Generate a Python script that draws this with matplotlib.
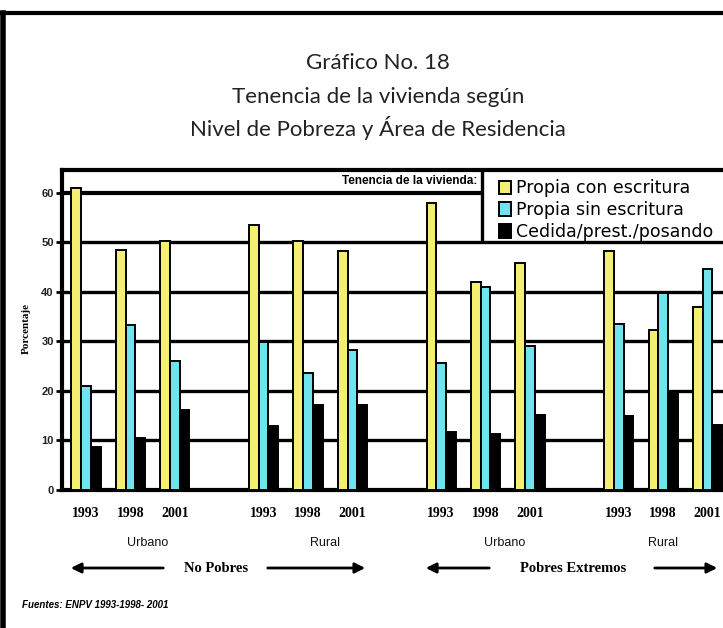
import matplotlib
matplotlib.use("Agg")
import matplotlib.pyplot as plt
from matplotlib.lines import Line2D
from matplotlib.patches import Patch, FancyArrowPatch
import numpy as np

# ---------------- data ----------------
years = ["1993", "1998", "2001"]
areas = ["Urbano", "Rural", "Urbano", "Rural"]
poverty = ["No Pobres", "Pobres Extremos"]
series_names = ["Propia con escritura", "Propia sin escritura", "Cedida/prest./posando"]

propia_con = [61, 48.5, 50.2, 53.5, 50.2, 48.2, 57.9, 41.9, 45.8, 48.2, 32.2, 37.0]
propia_sin = [21, 33.3, 26, 29.8, 23.6, 28.2, 25.7, 40.9, 29.1, 33.5, 39.7, 44.6]
cedida = [8.7, 10.5, 16.2, 13, 17.2, 17.2, 11.8, 11.3, 15.2, 15.0, 20.0, 13.1]

colors = ["#F4EF72", "#6FE4EE", "#000000"]
yticks = [0, 10, 20, 30, 40, 50, 60]

# ---------------- layout ----------------
W, H = 723, 628
fig = plt.figure(figsize=(W / 100, H / 100), dpi=100)
fig.patch.set_facecolor("white")

unit = 44.4          # px per cluster slot
x0px = 86            # px of first cluster centre
ax_left_px, ax_right_px = 62, 770
ax_top_px, ax_bot_px = 170, 490

ax = fig.add_axes([ax_left_px / W, 1 - ax_bot_px / H,
                   (ax_right_px - ax_left_px) / W, (ax_bot_px - ax_top_px) / H])
ax.set_xlim((ax_left_px - x0px) / unit, (ax_right_px - x0px) / unit)
ax.set_ylim(0, 64.6)

# cluster positions: 4 groups of 3 years, with a gap between groups
pos = np.array([g * 4 + i for g in range(4) for i in range(3)], dtype=float)
bw = 0.22

# gridlines (behind bars)
for yv in yticks[1:-1]:
    ax.axhline(yv, color="black", lw=2.4, zorder=1)
xl = ax.get_xlim()
box_x = (482 - x0px) / unit
ax.plot([xl[0], box_x], [60, 60], color="black", lw=3, zorder=1, solid_capstyle="butt")
ax.plot([box_x, box_x], [50, 64.6], color="black", lw=2.4, zorder=1, solid_capstyle="butt")

for k, (vals, c) in enumerate(zip([propia_con, propia_sin, cedida], colors)):
    ax.bar(pos + (k - 1) * bw, vals, width=bw, color=c, edgecolor="black",
           linewidth=1.4, zorder=3, label=series_names[k])

for s in ["left", "top", "bottom"]:
    ax.spines[s].set_linewidth(3)
ax.spines["right"].set_visible(False)

ax.set_yticks(yticks)
ax.set_yticklabels([str(v) for v in yticks], fontsize=8, fontweight="bold",
                   family="Liberation Sans", color="#222222")
ax.tick_params(axis="y", direction="out", length=4, width=2, pad=2)
ax.set_xticks(pos)
ax.set_xticklabels(years * 4, fontsize=10, fontweight="bold", family="Liberation Serif")
ax.tick_params(axis="x", length=0, pad=12)

fig.text(26 / W, 1 - 328 / H, "Porcentaje", rotation=90,
         ha="center", va="center", fontsize=8, fontweight="bold",
         family="Liberation Serif")

# header text
ax.text(box_x - 0.1, 62.3, "Tenencia de la vivienda:", ha="right", va="center",
        fontsize=8.5, fontweight="bold", family="Liberation Sans")

# legend
handles = [Patch(facecolor=c, edgecolor="black", linewidth=1.4) for c in colors]
leg = ax.legend(handles, series_names, loc="upper left",
                bbox_to_anchor=((490 - ax_left_px) / (ax_right_px - ax_left_px), 0.998),
                frameon=False, handlelength=0.7, handleheight=0.8,
                handletextpad=0.3, labelspacing=0.22, borderaxespad=0.1,
                prop={"family": "DejaVu Sans", "size": 12.5})

# area labels
area_px = [148, 325, 505, 663]
for a, px in zip(areas, area_px):
    fig.text(px / W, 1 - 543 / H, a, ha="center", va="center", fontsize=9,
             family="Liberation Sans", color="#111111")

# poverty labels with arrows
def arrow_label(text, cx, l0, l1, r0, r1, y):
    yf = 1 - y / H
    fig.text(cx / W, yf, text, ha="center", va="center", fontsize=10.5,
             fontweight="bold", family="Liberation Serif")
    for a, b in [(l1, l0), (r0, r1)]:
        fig.add_artist(FancyArrowPatch((a / W, yf), (b / W, yf),
                                       transform=fig.transFigure,
                                       arrowstyle="-|>,head_length=6,head_width=3",
                                       lw=2, color="black", mutation_scale=1))

arrow_label(poverty[0], 216, 68, 166, 265, 368, 568)
arrow_label(poverty[1], 573, 423, 492, 652, 720, 568)

# title
title_lines = ["Gráfico No. 18", "Tenencia de la vivienda según",
               "Nivel de Pobreza y Área de Residencia"]
for t, y in zip(title_lines, [63, 97, 128]):
    fig.text(378 / W, 1 - y / H, t, ha="center", va="center", fontsize=16,
             family="Lato", color="#222222")

fig.text(22 / W, 1 - 605 / H, "Fuentes: ENPV 1993-1998- 2001", ha="left",
         va="center", fontsize=7, fontstyle="italic", fontweight="bold",
         family="Liberation Sans")

# page frame
fig.add_artist(Line2D([0, 1], [1 - 13 / H, 1 - 13 / H], transform=fig.transFigure,
                      color="black", lw=3))
fig.add_artist(Line2D([2.5 / W, 2.5 / W], [0, 1 - 13 / H], transform=fig.transFigure,
                      color="black", lw=4))

fig.savefig("out.png", dpi=100, facecolor="white")
